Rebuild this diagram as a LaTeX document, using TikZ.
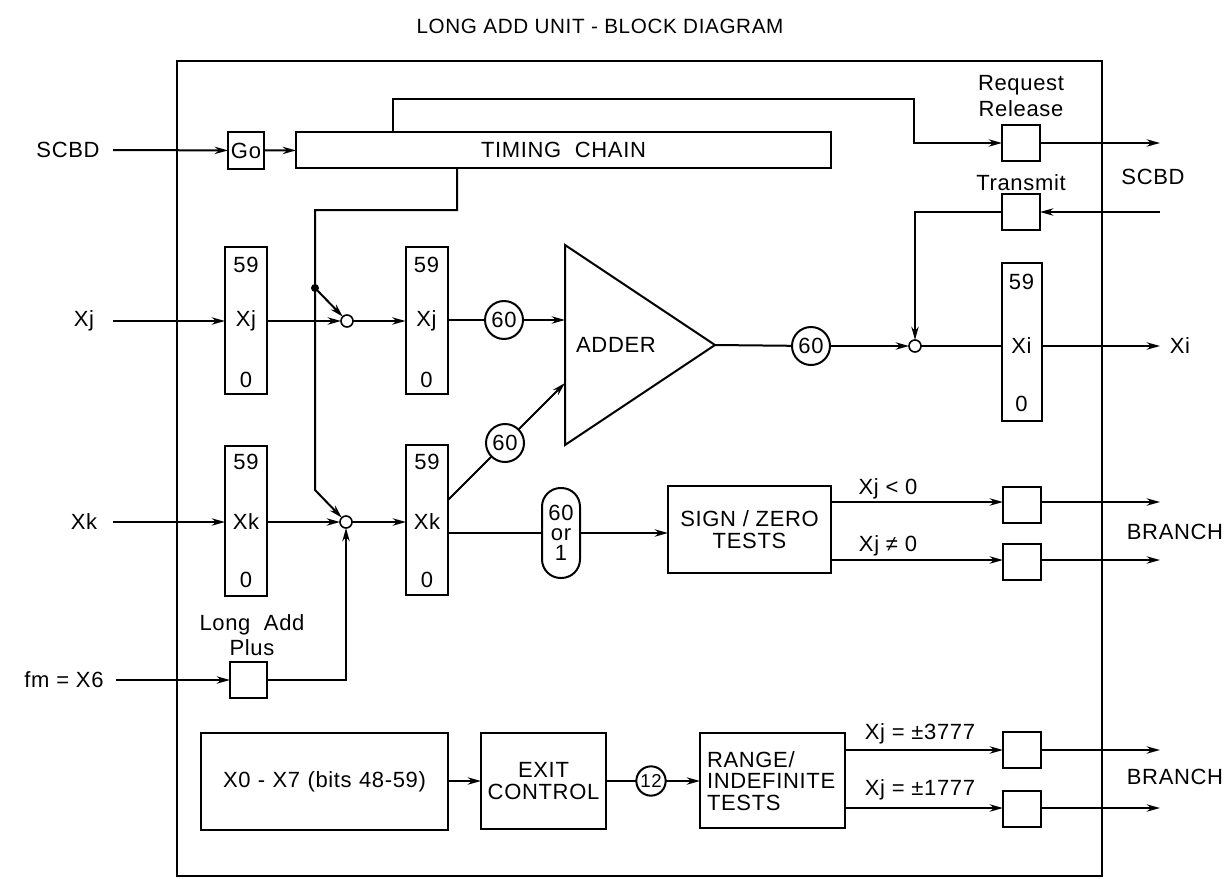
\documentclass[tikz,border=0pt]{standalone}
\usepackage{fontspec}
\setmainfont{Liberation Sans}
\newfontfamily\lfont[LetterSpace=3]{Liberation Sans}
\usetikzlibrary{arrows.meta}
\begin{document}
\begin{tikzpicture}[x=0.75pt,y=-0.75pt,
  every node/.style={inner sep=0pt,outer sep=0pt},
  txt/.style={font=\lfont\fontsize{16.5}{18}\selectfont},
  ttl/.style={font=\lfont\fontsize{15.5}{18}\selectfont},
  blk/.style={draw,line width=1.5pt,rectangle,txt,align=center},
  reg/.style={draw,line width=1.5pt,rectangle,minimum width=31.5pt},
  sbox/.style={draw,line width=1.5pt,rectangle,minimum width=28.5pt,minimum height=27pt},
  cnum/.style={draw,line width=1.5pt,circle,minimum size=28.5pt,txt},
  sw/.style={draw,line width=1.2pt,circle,fill=white,minimum size=9pt},
  dotn/.style={fill,circle,minimum size=6pt},
  ln/.style={line width=1.5pt},
  ar/.style={line width=1.5pt,-{Stealth[length=10pt,width=5.5pt]}},
]
\useasboundingbox (0,0) rectangle (1231,878);
% title
\node[ttl] (title) at (600,26) {LONG ADD UNIT - BLOCK DIAGRAM};
% outer frame
\draw[ln] (177,61) rectangle (1102,876);

% ---- left labels and inputs
\node[txt] (lscbd) at (68,150) {SCBD};
\node[txt] (lxj) at (84,321) {Xj};
\node[txt] (lxk) at (84,522) {Xk};
\node[txt] (lfm) at (64,680) {fm = X6};
\coordinate (iscbd) at (113,150);
\coordinate (ixj) at (113,321);
\coordinate (ixk) at (113,522);
\coordinate (ifm) at (116,680);

% ---- timing
\node[blk,minimum width=27pt,minimum height=27.75pt] (go) at (246,150.5) {Go};
\node[blk,minimum width=401.25pt,minimum height=27pt] (tc) at (563.5,150) {TIMING\ \ CHAIN};
\draw[ar] (iscbd) -- (go);
\draw[ar] (go) -- (tc);

% request release / transmit
\node[sbox] (req) at (1021,143) {};
\node[txt,align=center] (reqt) at (1021,96) {Request\\[1pt]Release};
\node[sbox] (trn) at (1021,212) {};
\node[txt] (trnt) at (1021,183) {Transmit};
\node[txt] (rscbd) at (1153,177) {SCBD};
\coordinate (tca) at (393,132);
\coordinate (tca2) at (393,99);
\coordinate (tca3) at (914,99);
\coordinate (tca4) at (914,143);
\draw[ar] (tca) -- (tca2) -- (tca3) -- (tca4) -- (req);
\coordinate (oscbd) at (1160,143);
\coordinate (iscbd2) at (1160,212);
\draw[ar] (req) -- (oscbd);
\draw[ar] (iscbd2) -- (trn);

% ---- registers
\node[reg,minimum height=110.25pt] (xj1) at (246,320.5) {};
\node[txt] (xj1a) at (246,265) {59};
\node[txt] (xj1b) at (246,321) {Xj};
\node[txt] (xj1c) at (246,380) {0};
\node[reg,minimum height=110.25pt] (xj2) at (426.5,320.5) {};
\node[txt] (xj2a) at (426.5,265) {59};
\node[txt] (xj2b) at (426.5,321) {Xj};
\node[txt] (xj2c) at (426.5,380) {0};
\node[reg,minimum height=112.5pt] (xk1) at (246,521) {};
\node[txt] (xk1a) at (246,462) {59};
\node[txt] (xk1b) at (246,522) {Xk};
\node[txt] (xk1c) at (246,580) {0};
\node[reg,minimum height=112.5pt] (xk2) at (427,520) {};
\node[txt] (xk2a) at (427,462) {59};
\node[txt] (xk2b) at (427,522) {Xk};
\node[txt] (xk2c) at (427,580) {0};
\node[reg,minimum width=30pt,minimum height=118.5pt] (xi) at (1021.5,342) {};
\node[txt] (xia) at (1021.5,282) {59};
\node[txt] (xib) at (1021.5,346) {Xi};
\node[txt] (xic) at (1021.5,404) {0};

\draw[ar] (ixj) -- (xj1.west |- ixj);
\draw[ar] (ixk) -- (xk1.west |- ixk);

% switches
\node[sw] (swj) at (347,321) {};
\node[sw] (swk) at (346,522) {};
\node[dotn] (dj) at (315,288) {};
\draw[ar] (xj1.east |- swj) -- (swj);
\draw[ar] (swj) -- (xj2.west |- swj);
\draw[ar] (xk1.east |- swk) -- (swk);
\draw[ar] (swk) -- (xk2.west |- swk);
\coordinate (tcb) at (457,168);
\coordinate (tcb2) at (457,210);
\coordinate (tcb3) at (315,210);
\coordinate (tcb4) at (315,490);
\draw[ar] (tcb) -- (tcb2) -- (tcb3) -- (tcb4) -- (swk);
\draw[ar] (dj) -- (swj);

% long add plus
\node[sbox,minimum width=27.75pt] (lap) at (248.5,680) {};
\node[txt,align=center] (lapt) at (252,635) {Long\ \ Add\\[1pt]Plus};
\coordinate (lapc) at (346,680);
\draw[ar] (ifm) -- (lap);
\draw[ar] (lap) -- (lapc) -- (swk);

% adder
\coordinate (adtop) at (565,245);
\coordinate (adbot) at (565,445);
\coordinate (adtip) at (715,345);
\draw[ln,line join=miter] (adtop) -- (adtip) -- (adbot) -- cycle;
\node[txt] (adder) at (616,345) {ADDER};
\coordinate (adin1) at (565,320);
\coordinate (adin2) at (565,383);
\node[cnum] (c60a) at (504,320) {60};
\node[cnum] (c60b) at (505,443) {60};
\node[cnum] (c60c) at (811,346) {60};
\draw[ln] (xj2.east |- c60a) -- (c60a);
\draw[ar] (c60a) -- (adin1);
\coordinate (xk2d) at (448,500);
\draw[ln] (xk2d) -- (c60b);
\draw[ar] (c60b) -- (adin2);
\draw[ln] (adtip) -- (c60c);
\node[sw] (swi) at (915,346) {};
\draw[ar] (c60c) -- (swi);
\draw[ln] (swi) -- (xi.west |- swi);
\coordinate (trn2) at (915,212);
\draw[ar] (trn) -- (trn2) -- (swi);
\coordinate (oxi) at (1160,346);
\draw[ar] (xi.east |- oxi) -- (oxi);
\node[txt] (rxi) at (1180,346) {Xi};

% sign / zero
\node[draw,line width=1.5pt,rounded corners=14pt,minimum width=28.5pt,minimum height=67.5pt] (pill) at (561,533) {};
\node[txt,align=center] (pillt) at (561,533) {60\\[-3pt]or\\[-3pt]1};
\node[blk,minimum width=122.25pt,minimum height=65.25pt] (sz) at (749.5,529.5) {SIGN / ZERO\\[-2pt]TESTS};
\draw[ln] (xk2.east |- pill) -- (pill);
\draw[ar] (pill) -- (sz.west |- pill);
\node[sbox] (b1) at (1022,504.5) {};
\node[sbox] (b2) at (1022,562) {};
\draw[ar] (sz.east |- 0,502) -- (b1.west |- 0,502);
\draw[ar] (sz.east |- 0,560) -- (b2.west |- 0,560);
\node[txt] (l1) at (888,489) {Xj < 0};
\node[txt] (l2) at (888,546) {Xj ≠ 0};
\coordinate (ob1) at (1160,502);
\coordinate (ob2) at (1160,560);
\draw[ar] (b1.east |- ob1) -- (ob1);
\draw[ar] (b2.east |- ob2) -- (ob2);
\node[txt] (br1) at (1175,532) {BRANCH};

% bottom row
\node[blk,minimum width=185.25pt,minimum height=72.75pt] (x07) at (324.5,781.5) {X0\,\,-\,\,X7\,\,(bits\,\,48-59)};
\node[blk,minimum width=93.75pt,minimum height=72pt] (exit) at (543.5,781) {EXIT\\[-2pt]CONTROL};
\node[draw,line width=1.5pt,circle,minimum size=22pt,font=\lfont\fontsize{14}{16}\selectfont] (c12) at (651,781) {12};
\node[draw,line width=1.5pt,minimum width=108.75pt,minimum height=71.25pt] (rng) at (772.5,780.5) {};
\node[txt,align=left,anchor=west] (rngt) at (707,781) {RANGE/\\[-2pt]INDEFINITE\\[-2pt]TESTS};
\draw[ar] (x07.east |- exit) -- (exit);
\draw[ln] (exit) -- (c12);
\draw[ar] (c12) -- (rng.west |- c12);
\node[sbox] (b3) at (1022,750) {};
\node[sbox] (b4) at (1022,808.5) {};
\draw[ar] (rng.east |- 0,750) -- (b3);
\draw[ar] (rng.east |- 0,808) -- (b4.west |- 0,808);
\node[txt] (l3) at (920,734) {Xj = ±3777};
\node[txt] (l4) at (920,790) {Xj = ±1777};
\coordinate (ob3) at (1160,750);
\coordinate (ob4) at (1160,808);
\draw[ar] (b3) -- (ob3);
\draw[ar] (b4.east |- ob4) -- (ob4);
\node[txt] (br2) at (1175,777) {BRANCH};
\end{tikzpicture}
\end{document}
